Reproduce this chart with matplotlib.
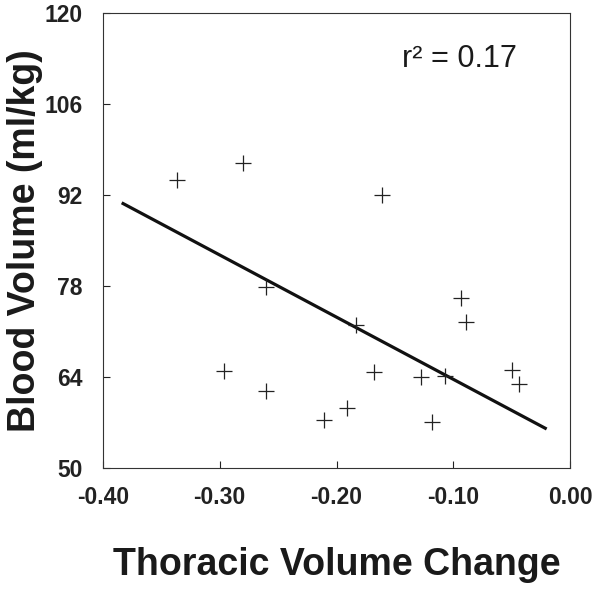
import numpy as np
import matplotlib
matplotlib.use("Agg")
from matplotlib import pyplot as plt

# thoracic volume change vs blood volume (ml/kg)
thoracic = [-0.337, -0.280, -0.161, -0.260, -0.093, -0.089, -0.183, -0.296, -0.168,
            -0.128, -0.107, -0.050, -0.044, -0.260, -0.191, -0.211, -0.118]
blood = [94.3, 96.9, 92.0, 77.9, 76.1, 72.5, 72.0, 65.0, 64.8,
         64.0, 64.2, 65.1, 63.0, 61.9, 59.3, 57.4, 57.1]

# regression line end points
fit_x = [-0.384, -0.020]
fit_y = [90.8, 56.0]

xticks = [-0.40, -0.30, -0.20, -0.10, 0.00]
yticks = [50, 64, 78, 92, 106, 120]

plt.rcParams['font.family'] = ['Liberation Sans', 'DejaVu Sans']

fig = plt.figure(figsize=(6.01, 5.91), dpi=100)
ax = fig.add_axes([103 / 601, 1 - 468 / 591, 467 / 601, 455 / 591])

ax.scatter(thoracic, blood, marker='+', s=135, linewidths=0.9, color='#222222', zorder=3)
ax.plot(fit_x, fit_y, color='#111111', linewidth=2.3, solid_capstyle='butt')

ax.set_xlim(-0.40, 0.00)
ax.set_ylim(50, 120)
ax.set_xticks(xticks)
ax.set_xticklabels(["%.2f" % v for v in xticks])
ax.set_yticks(yticks)

ax.tick_params(axis='x', direction='in', length=5, width=0.8, pad=13,
               labelsize=16.5, colors='#222222')
ax.tick_params(axis='y', direction='in', length=5, width=0.8, pad=14.5,
               labelsize=16.5, colors='#222222')
for lab in ax.get_xticklabels() + ax.get_yticklabels():
    lab.set_fontweight('bold')

for sp in ax.spines.values():
    sp.set_linewidth(0.8)
    sp.set_color('#333333')

ax.set_xlabel("Thoracic Volume Change", fontsize=27, fontweight='bold',
              labelpad=27, color='#1a1a1a')
ax.set_ylabel("Blood Volume (ml/kg)", fontsize=27, fontweight='bold',
              labelpad=1, color='#1a1a1a')

ax.text(0.64, 0.881, "r\u00b2 = 0.17", transform=ax.transAxes, fontsize=22,
        ha='left', va='baseline', color='#1a1a1a')

fig.savefig("out.png", dpi=100)
